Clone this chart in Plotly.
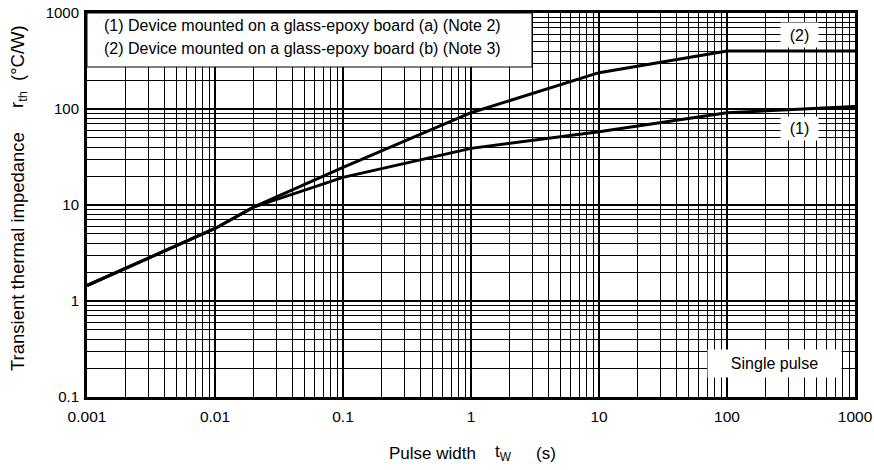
import plotly.graph_objects as go

# Data
pulse_width = [0.001, 0.01, 0.02, 0.1, 1, 10, 100, 1000]
rth_board_a = [1.45, 5.7, 9.5, 19.4, 38.9, 58, 91.5, 106]     # (1)
rth_board_b = [1.45, 5.7, 9.5, 24.7, 91.5, 239, 402, 402]     # (2)

x_tick_vals = [0.001, 0.01, 0.1, 1, 10, 100, 1000]
x_tick_text = ["0.001", "0.01", "0.1", "1", "10", "100", "1000"]
y_tick_vals = [0.1, 1, 10, 100, 1000]
y_tick_text = ["0.1", "1", "10", "100", "1000"]

x_minor = [m * 10.0 ** d for d in range(-3, 3) for m in range(2, 10)]
y_minor = [m * 10.0 ** d for d in range(-1, 3) for m in range(2, 10)]

FONT = "Liberation Sans, Arial, Helvetica, sans-serif"

fig = go.Figure()
for ys in (rth_board_a, rth_board_b):
    fig.add_trace(go.Scatter(x=pulse_width, y=ys, mode="lines",
                             line=dict(color="black", width=3),
                             showlegend=False, hoverinfo="skip"))

W, H = 874, 470
L, R, T, B = 87, 19, 13, 73
pw, ph = W - L - R, H - T - B

def px(x):
    return (x - L) / pw

def py(y):
    return (H - B - y) / ph

fig.update_layout(
    width=W, height=H,
    margin=dict(l=L, r=R, t=T, b=B, autoexpand=False),
    paper_bgcolor="white", plot_bgcolor="white",
    font=dict(family=FONT, size=15, color="black"),
    xaxis=dict(type="log", range=[-3, 3], tickvals=x_tick_vals, ticktext=x_tick_text,
               showgrid=True, gridcolor="black", gridwidth=2,
               minor=dict(tickvals=x_minor, showgrid=True, gridcolor="black", gridwidth=1, ticks=""),
               showline=True, linecolor="black", linewidth=3, mirror=True,
               ticks="", ticklabelstandoff=3, zeroline=False, automargin=False,
               tickfont=dict(size=15.5)),
    yaxis=dict(type="log", range=[-1, 3], tickvals=y_tick_vals, ticktext=y_tick_text,
               showgrid=True, gridcolor="black", gridwidth=2,
               minor=dict(tickvals=y_minor, showgrid=True, gridcolor="black", gridwidth=1, ticks=""),
               showline=True, linecolor="black", linewidth=3, mirror=True,
               ticks="", ticklabelstandoff=2, zeroline=False, automargin=False,
               tickfont=dict(size=15)),
)

# Legend box (white with border)
fig.add_shape(type="rect", xref="paper", yref="paper",
              x0=0, x1=px(532), y0=py(67), y1=1,
              fillcolor="white", line=dict(color="black", width=1), layer="above")

legend_lines = ["(1) Device mounted on a glass-epoxy board (a) (Note 2)",
                "(2) Device mounted on a glass-epoxy board (b) (Note 3)"]
for txt, yc in zip(legend_lines, (26, 48)):
    fig.add_annotation(text=txt, x=px(102), y=py(yc), xref="paper", yref="paper",
                       xanchor="left", yanchor="middle", showarrow=False,
                       font=dict(size=16))

for txt, cx, cy, w, h in [("(2)", 799.5, 35, 37, 24), ("(1)", 799.5, 128.5, 37, 23),
                          ("Single pulse", 774.5, 363.5, 133, 27)]:
    fig.add_annotation(text=txt, x=px(cx), y=py(cy), xref="paper", yref="paper",
                       xanchor="center", yanchor="middle", showarrow=False,
                       bgcolor="white", width=w, height=h, borderpad=0,
                       font=dict(size=16))

# Axis titles (pieces placed as in the reference)
for txt, cx in [("Pulse width", 432), ("t<sub>W</sub>", 503), ("(s)", 546)]:
    fig.add_annotation(text=txt, x=px(cx), y=py(453), xref="paper", yref="paper",
                       showarrow=False, xanchor="center", yanchor="middle",
                       font=dict(size=17))
for txt, cy in [("Transient thermal impedance", 252), ("r<sub>th</sub>", 100), ("(°C/W)", 53)]:
    fig.add_annotation(text=txt, x=px(18), y=py(cy), xref="paper", yref="paper",
                       showarrow=False, textangle=-90, xanchor="center", yanchor="middle",
                       font=dict(size=18.5))

fig.write_html("out.html", config={"displayModeBar": False},
               post_script="document.body.style.margin='0';document.body.style.padding='0';")
